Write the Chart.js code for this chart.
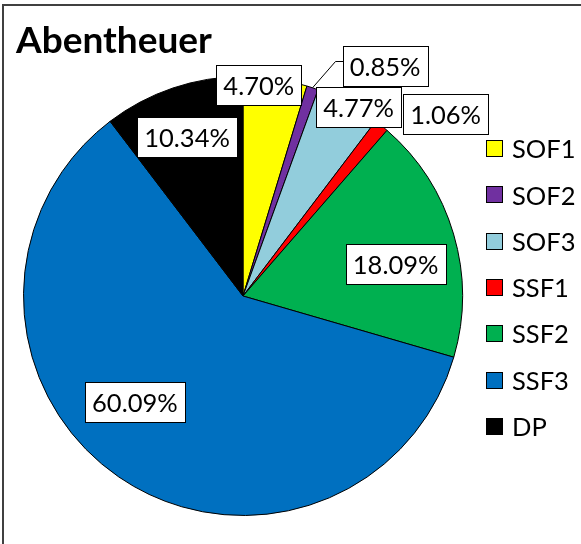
<!DOCTYPE html>
<html>
<head>
<meta charset="utf-8">
<script src="https://cdn.jsdelivr.net/npm/chart.js@4"></script>
<style>
  body { margin: 0; background: #fff; }
  canvas { display: block; }
</style>
</head>
<body>
<canvas id="chart" width="581" height="544"></canvas>
<script>
// data
const categories = ['SOF1', 'SOF2', 'SOF3', 'SSF1', 'SSF2', 'SSF3', 'DP'];
const shares = [4.70, 0.85, 4.77, 1.06, 18.09, 60.09, 10.34];
const sliceColors = ['#FFFF00', '#7030A0', '#92CDDC', '#FF0000', '#00B050', '#0070C0', '#000000'];
const chartTitle = 'Abentheuer';

// where Excel put each label: radius factor + angle nudge (degrees)
const labelRadius = [0.966, 1.23, 1.008, 1.242, 0.71, 0.691, 0.766];
const labelTurn = [-4.2, 13.3, 2.9, 8.9, 4.7, 11.0, -0.8];
const withLeader = [false, true, false, false, false, false, false];

const FONT = 'Lato, "Open Sans", sans-serif';

const labelsPlugin = {
  id: 'excelLabels',
  afterDatasetsDraw(chart) {
    const ctx = chart.ctx;
    const meta = chart.getDatasetMeta(0);
    ctx.save();
    ctx.font = '25.5px ' + FONT;
    ctx.textAlign = 'center';
    ctx.textBaseline = 'middle';
    meta.data.forEach((arc, i) => {
      const mid = (arc.startAngle + arc.endAngle) / 2;
      const a = mid + labelTurn[i] * Math.PI / 180;
      const d = arc.outerRadius * labelRadius[i];
      const cx = arc.x + Math.cos(a) * d;
      const cy = arc.y + Math.sin(a) * d;
      const txt = shares[i].toFixed(2) + '%';
      const w = Math.round(ctx.measureText(txt).width + 14);
      const h = 40;
      const left = Math.round(cx - w / 2) + 0.5;
      const top = Math.round(cy - h / 2) + 0.5;

      if (withLeader[i]) {
        ctx.beginPath();
        ctx.strokeStyle = '#000';
        ctx.lineWidth = 1;
        ctx.moveTo(arc.x + Math.cos(mid) * arc.outerRadius, arc.y + Math.sin(mid) * arc.outerRadius);
        ctx.lineTo(left - 8, top + 15);
        ctx.lineTo(left, top + 15);
        ctx.stroke();
      }

      ctx.fillStyle = '#fff';
      ctx.fillRect(left, top, w, h);
      ctx.strokeStyle = '#000';
      ctx.lineWidth = 1;
      ctx.strokeRect(left, top, w, h);
      ctx.fillStyle = '#000';
      ctx.fillText(txt, cx, top + h / 2 + 1);
    });
    ctx.restore();
  },
  afterDraw(chart) {
    const ctx = chart.ctx;
    ctx.save();
    // frame (only top and left edges are inside the picture)
    ctx.strokeStyle = '#404040';
    ctx.lineWidth = 2;
    ctx.beginPath();
    ctx.moveTo(3, 544);
    ctx.lineTo(3, 5);
    ctx.lineTo(581, 5);
    ctx.stroke();

    // title
    ctx.fillStyle = '#000';
    ctx.font = 'bold 37px ' + FONT;
    ctx.textAlign = 'left';
    ctx.textBaseline = 'alphabetic';
    ctx.fillText(chartTitle, 16, 53);

    // legend
    ctx.font = '25.5px ' + FONT;
    ctx.textBaseline = 'middle';
    categories.forEach((name, i) => {
      const y = 149 + i * 46.3;
      ctx.fillStyle = sliceColors[i];
      ctx.fillRect(486, Math.round(y - 9), 17, 17);
      ctx.strokeStyle = '#000';
      ctx.lineWidth = 1;
      ctx.strokeRect(486.5, Math.round(y - 9) + 0.5, 16, 16);
      ctx.fillStyle = '#000';
      ctx.fillText(name, 512, y + 1);
    });
    ctx.restore();
  }
};

new Chart(document.getElementById('chart'), {
  type: 'pie',
  data: {
    labels: categories,
    datasets: [{
      data: shares,
      backgroundColor: sliceColors,
      borderColor: '#000',
      borderWidth: 1,
      hoverOffset: 0,
      offset: 0
    }]
  },
  options: {
    responsive: false,
    animation: false,
    devicePixelRatio: 1,
    layout: { padding: { left: 23, top: 76, right: 118, bottom: 28 } },
    plugins: {
      legend: { display: false },
      title: { display: false },
      tooltip: { enabled: false }
    }
  },
  plugins: [labelsPlugin]
});
</script>
</body>
</html>
